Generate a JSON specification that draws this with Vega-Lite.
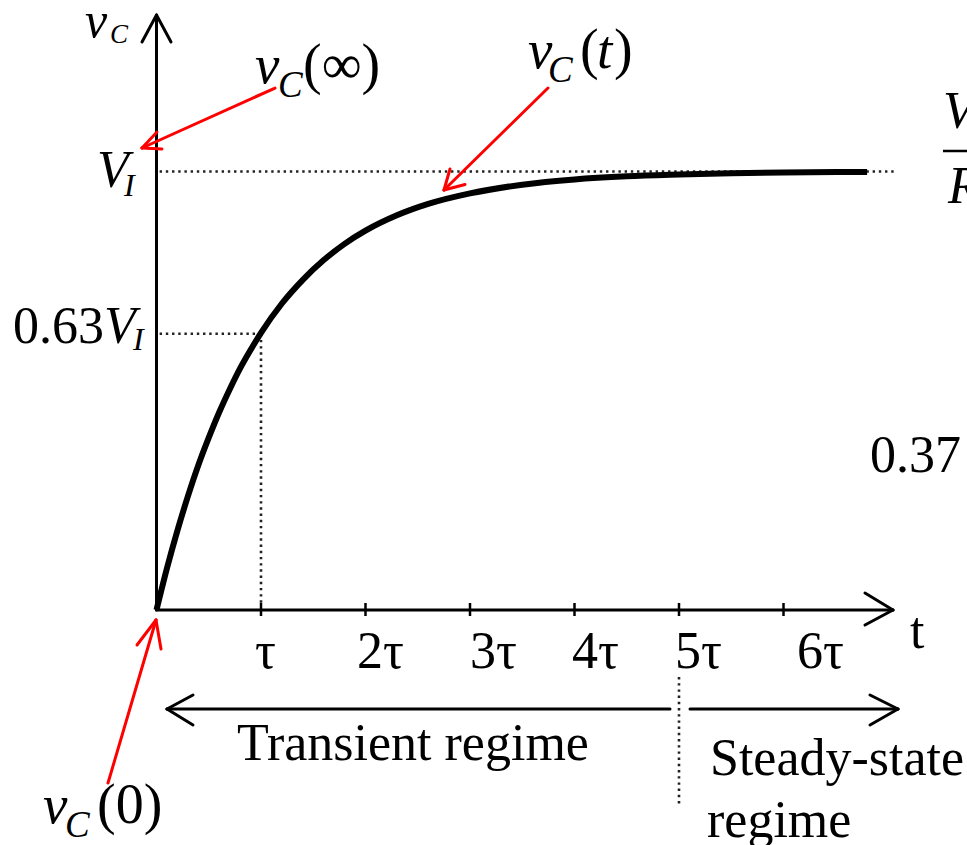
{
  "$schema": "https://vega.github.io/schema/vega-lite/v6.json",
  "width": 967,
  "height": 845,
  "padding": 0,
  "autosize": {"type": "none"},
  "background": "white",
  "config": {"view": {"stroke": null}},
  "datasets": {
    "curve": [
      {"t": 0, "v": 0}, {"t": 0.1, "v": 0.095}, {"t": 0.2, "v": 0.181}, {"t": 0.3, "v": 0.259},
      {"t": 0.4, "v": 0.33}, {"t": 0.5, "v": 0.393}, {"t": 0.6, "v": 0.451}, {"t": 0.7, "v": 0.503},
      {"t": 0.8, "v": 0.551}, {"t": 0.9, "v": 0.593}, {"t": 1.0, "v": 0.632}, {"t": 1.2, "v": 0.699},
      {"t": 1.4, "v": 0.753}, {"t": 1.6, "v": 0.798}, {"t": 1.8, "v": 0.835}, {"t": 2.0, "v": 0.865},
      {"t": 2.3, "v": 0.9}, {"t": 2.6, "v": 0.926}, {"t": 3.0, "v": 0.95}, {"t": 3.5, "v": 0.97},
      {"t": 4.0, "v": 0.982}, {"t": 4.5, "v": 0.989}, {"t": 5.0, "v": 0.993}, {"t": 5.5, "v": 0.996},
      {"t": 6.0, "v": 0.998}, {"t": 6.8, "v": 0.999}
    ],
    "strokes": [
      {"kind": "axis", "t1": 0, "v1": 0, "t2": 0, "v2": 1.3569},
      {"kind": "axis", "t1": 0, "v1": 1.3569, "t2": -0.1388, "v2": 1.2953},
      {"kind": "axis", "t1": 0, "v1": 1.3569, "t2": 0.1388, "v2": 1.2953},
      {"kind": "axis", "t1": 0, "v1": 0, "t2": 7.0478, "v2": 0},
      {"kind": "axis", "t1": 7.0478, "v1": 0, "t2": 6.7799, "v2": 0.0388},
      {"kind": "axis", "t1": 7.0478, "v1": 0, "t2": 6.7799, "v2": -0.0342},
      {"kind": "tick", "t1": 1, "v1": 0.016, "t2": 1, "v2": -0.0137},
      {"kind": "tick", "t1": 2, "v1": 0.016, "t2": 2, "v2": -0.0137},
      {"kind": "tick", "t1": 3, "v1": 0.016, "t2": 3, "v2": -0.0137},
      {"kind": "tick", "t1": 4, "v1": 0.016, "t2": 4, "v2": -0.0137},
      {"kind": "tick", "t1": 5, "v1": 0.016, "t2": 5, "v2": -0.0137},
      {"kind": "tick", "t1": 6, "v1": 0.016, "t2": 6, "v2": -0.0137},
      {"kind": "axis", "t1": 0.1005, "v1": -0.2258, "t2": 4.914, "v2": -0.2258},
      {"kind": "axis", "t1": 0.1005, "v1": -0.2258, "t2": 0.3493, "v2": -0.1938},
      {"kind": "axis", "t1": 0.1005, "v1": -0.2258, "t2": 0.3493, "v2": -0.2622},
      {"kind": "axis", "t1": 5.1053, "v1": -0.2258, "t2": 7.0957, "v2": -0.2258},
      {"kind": "axis", "t1": 7.0957, "v1": -0.2258, "t2": 6.8278, "v2": -0.1938},
      {"kind": "axis", "t1": 7.0957, "v1": -0.2258, "t2": 6.8278, "v2": -0.2622},
      {"kind": "bar", "t1": 7.5263, "v1": 1.0467, "t2": 7.9, "v2": 1.0467},
      {"kind": "dotted", "t1": 0.03, "v1": 1, "t2": 7.086, "v2": 1},
      {"kind": "dotted", "t1": 0.03, "v1": 0.63, "t2": 1, "v2": 0.63},
      {"kind": "dotted", "t1": 1, "v1": 0.63, "t2": 1, "v2": 0.01},
      {"kind": "dotted", "t1": 5.0, "v1": -0.1528, "t2": 5.0, "v2": -0.4447},
      {"kind": "pointer", "t1": 1.134, "v1": 1.1904, "t2": -0.1388, "v2": 1.0536},
      {"kind": "pointer", "t1": -0.1388, "v1": 1.0536, "t2": 0.0048, "v2": 1.0901},
      {"kind": "pointer", "t1": -0.1388, "v1": 1.0536, "t2": 0.0526, "v2": 1.0513},
      {"kind": "pointer", "t1": 3.7464, "v1": 1.1904, "t2": 2.7512, "v2": 0.9578},
      {"kind": "pointer", "t1": 2.7512, "v1": 0.9578, "t2": 2.9522, "v2": 0.9704},
      {"kind": "pointer", "t1": 2.7512, "v1": 0.9578, "t2": 2.8086, "v2": 1.0057},
      {"kind": "pointer", "t1": -0.4641, "v1": -0.3945, "t2": -0.0048, "v2": -0.0228},
      {"kind": "pointer", "t1": -0.0048, "v1": -0.0228, "t2": -0.1866, "v2": -0.0798},
      {"kind": "pointer", "t1": -0.0048, "v1": -0.0228, "t2": 0.0431, "v2": -0.0889}
    ],
    "labels": [
      {"role": "axisvar", "t": -0.6842, "v": 1.3067, "text": "v"},
      {"role": "axissub", "t": -0.445, "v": 1.293, "text": "C"},
      {"role": "var", "t": 0.9426, "v": 1.2018, "text": "v"},
      {"role": "sub", "t": 1.1627, "v": 1.1699, "text": "C"},
      {"role": "paren", "t": 1.4019, "v": 1.2018, "text": "(∞)"},
      {"role": "var", "t": 3.555, "v": 1.236, "text": "v"},
      {"role": "sub", "t": 3.7464, "v": 1.2041, "text": "C"},
      {"role": "paren", "t": 4.0526, "v": 1.236, "text": "("},
      {"role": "var", "t": 4.2153, "v": 1.236, "text": "t"},
      {"role": "paren", "t": 4.378, "v": 1.236, "text": ")"},
      {"role": "var", "t": -1.0861, "v": -0.4857, "text": "v"},
      {"role": "sub", "t": -0.8756, "v": -0.5177, "text": "C"},
      {"role": "paren", "t": -0.5694, "v": -0.4857, "text": "(0)"},
      {"role": "cap", "t": -0.5694, "v": 0.9647, "text": "V"},
      {"role": "capsub", "t": -0.311, "v": 0.945, "text": "I"},
      {"role": "plain", "t": -1.3732, "v": 0.6089, "text": "0.63"},
      {"role": "cap", "t": -0.5024, "v": 0.6089, "text": "V"},
      {"role": "capsub", "t": -0.2249, "v": 0.5935, "text": "I"},
      {"role": "plain", "t": 0.9426, "v": -0.1323, "text": "τ"},
      {"role": "plain", "t": 1.9187, "v": -0.1323, "text": "2τ"},
      {"role": "plain", "t": 3.0, "v": -0.1323, "text": "3τ"},
      {"role": "plain", "t": 3.9761, "v": -0.1323, "text": "4τ"},
      {"role": "plain", "t": 4.9617, "v": -0.1323, "text": "5τ"},
      {"role": "plain", "t": 6.1292, "v": -0.1323, "text": "6τ"},
      {"role": "plain", "t": 7.2105, "v": -0.0867, "text": "t"},
      {"role": "plain", "t": 0.7703, "v": -0.3421, "text": "Transient regime"},
      {"role": "plain", "t": 5.2967, "v": -0.3763, "text": "Steady-state"},
      {"role": "plain", "t": 5.2679, "v": -0.5177, "text": "regime"},
      {"role": "cap", "t": 7.5263, "v": 1.0992, "text": "V"},
      {"role": "cap", "t": 7.5742, "v": 0.9282, "text": "R"},
      {"role": "plain", "t": 6.8278, "v": 0.3147, "text": "0.37"}
    ]
  },
  "encoding": {
    "x": {"type": "quantitative", "scale": {"domain": [-1.4976, 7.756], "nice": false, "zero": false}, "axis": null},
    "y": {"type": "quantitative", "scale": {"domain": [-0.5359, 1.3911], "nice": false, "zero": false}, "axis": null}
  },
  "layer": [
    {
      "data": {"name": "strokes"},
      "transform": [{"filter": "datum.kind === 'dotted'"}],
      "mark": {"type": "rule", "color": "#222222", "strokeWidth": 2.6, "strokeDash": [2.4, 3.8]},
      "encoding": {"x": {"field": "t1"}, "y": {"field": "v1"}, "x2": {"field": "t2"}, "y2": {"field": "v2"}}
    },
    {
      "data": {"name": "curve"},
      "mark": {"type": "line", "color": "black", "strokeWidth": 6, "interpolate": "monotone"},
      "encoding": {"x": {"field": "t"}, "y": {"field": "v"}}
    },
    {
      "data": {"name": "strokes"},
      "transform": [{"filter": "datum.kind === 'axis'"}],
      "mark": {"type": "rule", "color": "black", "strokeWidth": 3, "strokeCap": "round"},
      "encoding": {"x": {"field": "t1"}, "y": {"field": "v1"}, "x2": {"field": "t2"}, "y2": {"field": "v2"}}
    },
    {
      "data": {"name": "strokes"},
      "transform": [{"filter": "datum.kind === 'tick' || datum.kind === 'bar'"}],
      "mark": {"type": "rule", "color": "black", "strokeWidth": 2.5},
      "encoding": {"x": {"field": "t1"}, "y": {"field": "v1"}, "x2": {"field": "t2"}, "y2": {"field": "v2"}}
    },
    {
      "data": {"name": "strokes"},
      "transform": [{"filter": "datum.kind === 'pointer'"}],
      "mark": {"type": "rule", "color": "#ff0000", "strokeWidth": 3, "strokeCap": "round"},
      "encoding": {"x": {"field": "t1"}, "y": {"field": "v1"}, "x2": {"field": "t2"}, "y2": {"field": "v2"}}
    },
    {
      "data": {"name": "labels"},
      "transform": [{"filter": "datum.role === 'axisvar'"}],
      "mark": {"type": "text", "font": "Liberation Serif", "fontStyle": "italic", "fontSize": 50, "align": "left", "baseline": "alphabetic", "color": "black"},
      "encoding": {"x": {"field": "t"}, "y": {"field": "v"}, "text": {"field": "text"}}
    },
    {
      "data": {"name": "labels"},
      "transform": [{"filter": "datum.role === 'axissub'"}],
      "mark": {"type": "text", "font": "Liberation Serif", "fontStyle": "italic", "fontSize": 27, "align": "left", "baseline": "alphabetic", "color": "black"},
      "encoding": {"x": {"field": "t"}, "y": {"field": "v"}, "text": {"field": "text"}}
    },
    {
      "data": {"name": "labels"},
      "transform": [{"filter": "datum.role === 'var'"}],
      "mark": {"type": "text", "font": "Liberation Serif", "fontStyle": "italic", "fontSize": 55, "align": "left", "baseline": "alphabetic", "color": "black"},
      "encoding": {"x": {"field": "t"}, "y": {"field": "v"}, "text": {"field": "text"}}
    },
    {
      "data": {"name": "labels"},
      "transform": [{"filter": "datum.role === 'sub'"}],
      "mark": {"type": "text", "font": "Liberation Serif", "fontStyle": "italic", "fontSize": 37, "align": "left", "baseline": "alphabetic", "color": "black"},
      "encoding": {"x": {"field": "t"}, "y": {"field": "v"}, "text": {"field": "text"}}
    },
    {
      "data": {"name": "labels"},
      "transform": [{"filter": "datum.role === 'paren'"}],
      "mark": {"type": "text", "font": "Liberation Serif", "fontSize": 56, "align": "left", "baseline": "alphabetic", "color": "black"},
      "encoding": {"x": {"field": "t"}, "y": {"field": "v"}, "text": {"field": "text"}}
    },
    {
      "data": {"name": "labels"},
      "transform": [{"filter": "datum.role === 'cap'"}],
      "mark": {"type": "text", "font": "Liberation Serif", "fontStyle": "italic", "fontSize": 52, "align": "left", "baseline": "alphabetic", "color": "black"},
      "encoding": {"x": {"field": "t"}, "y": {"field": "v"}, "text": {"field": "text"}}
    },
    {
      "data": {"name": "labels"},
      "transform": [{"filter": "datum.role === 'capsub'"}],
      "mark": {"type": "text", "font": "Liberation Serif", "fontStyle": "italic", "fontSize": 32, "align": "left", "baseline": "alphabetic", "color": "black"},
      "encoding": {"x": {"field": "t"}, "y": {"field": "v"}, "text": {"field": "text"}}
    },
    {
      "data": {"name": "labels"},
      "transform": [{"filter": "datum.role === 'plain'"}],
      "mark": {"type": "text", "font": "Liberation Serif", "fontSize": 52, "align": "left", "baseline": "alphabetic", "color": "black"},
      "encoding": {"x": {"field": "t"}, "y": {"field": "v"}, "text": {"field": "text"}}
    }
  ]
}
